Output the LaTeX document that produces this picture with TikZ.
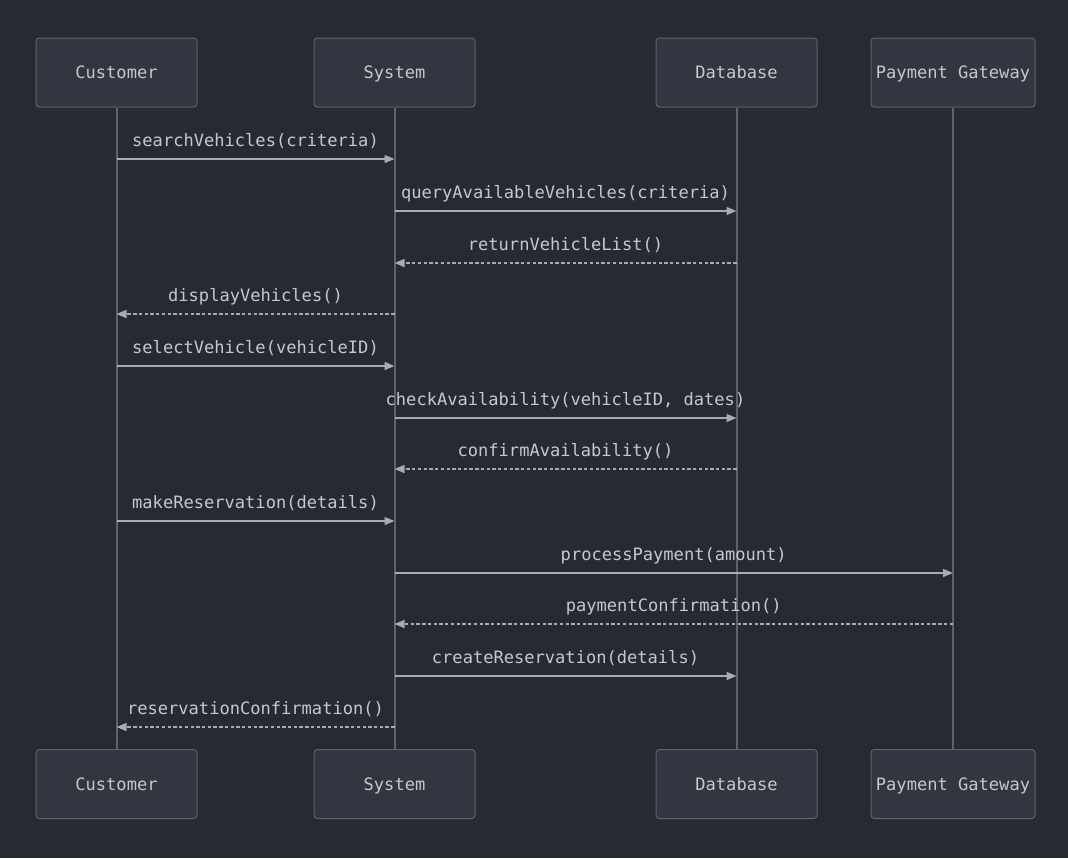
\documentclass[tikz,border=0pt]{standalone}
\usepackage{fontspec}
\setmonofont{DejaVu Sans Mono}
\usetikzlibrary{arrows.meta}
\definecolor{bg}{HTML}{282A32}
\definecolor{boxfill}{HTML}{333640}
\definecolor{boxline}{HTML}{5E626D}
\definecolor{life}{HTML}{5E626D}
\definecolor{arr}{HTML}{A8ABB4}
\definecolor{txt}{HTML}{C6C8CE}
\tikzset{
  actor/.style={draw=boxline, fill=boxfill, line width=0.75pt, rounded corners=2.5pt,
    minimum height=69*0.75pt, text=txt, font=\ttfamily\fontsize{12.8}{14}\selectfont,
    text height=9pt, text depth=0pt, inner sep=0pt},
  lifeline/.style={draw=life, line width=1.5pt},
  call/.style={draw=arr, line width=1.1pt, -{Triangle[length=7.5pt,width=6pt]}},
  reply/.style={call, dash pattern=on 2.5pt off 1.8pt},
  lbl/.style={text=txt, font=\ttfamily\fontsize{12.8}{14}\selectfont, anchor=base, inner sep=0pt, yshift=13*0.75pt}
}
\begin{document}
\begin{tikzpicture}[x=0.75pt,y=-0.75pt]
\fill[bg] (0,0) rectangle (1068,858);
\useasboundingbox (0,0) rectangle (1068,858);
% actors
\node[actor, minimum width=161*0.75pt] (cuT) at (116.5,72.5) {Customer};
\node[actor, minimum width=161*0.75pt] (syT) at (394.5,72.5) {System};
\node[actor, minimum width=161*0.75pt] (dbT) at (736.5,72.5) {Database};
\node[actor, minimum width=164*0.75pt] (pgT) at (953,72.5) {Payment Gateway};
\node[actor, minimum width=161*0.75pt] (cuB) at (116.5,784) {Customer};
\node[actor, minimum width=161*0.75pt] (syB) at (394.5,784) {System};
\node[actor, minimum width=161*0.75pt] (dbB) at (736.5,784) {Database};
\node[actor, minimum width=164*0.75pt] (pgB) at (953,784) {Payment Gateway};
% lifelines
\draw[lifeline] (cuT.south) -- (cuB.north);
\draw[lifeline] (syT.south) -- (syB.north);
\draw[lifeline] (dbT.south) -- (dbB.north);
\draw[lifeline] (pgT.south) -- (pgB.north);
% message coordinates
\coordinate (m1a) at (cuT.south |- 0,159);  \coordinate (m1b) at (syT.south |- 0,159);
\coordinate (m2a) at (syT.south |- 0,211);  \coordinate (m2b) at (dbT.south |- 0,211);
\coordinate (m3a) at (dbT.south |- 0,263);  \coordinate (m3b) at (syT.south |- 0,263);
\coordinate (m4a) at (syT.south |- 0,314);  \coordinate (m4b) at (cuT.south |- 0,314);
\coordinate (m5a) at (cuT.south |- 0,366);  \coordinate (m5b) at (syT.south |- 0,366);
\coordinate (m6a) at (syT.south |- 0,418);  \coordinate (m6b) at (dbT.south |- 0,418);
\coordinate (m7a) at (dbT.south |- 0,469);  \coordinate (m7b) at (syT.south |- 0,469);
\coordinate (m8a) at (cuT.south |- 0,521);  \coordinate (m8b) at (syT.south |- 0,521);
\coordinate (m9a) at (syT.south |- 0,573);  \coordinate (m9b) at (pgT.south |- 0,573);
\coordinate (m10a) at (pgT.south |- 0,624); \coordinate (m10b) at (syT.south |- 0,624);
\coordinate (m11a) at (syT.south |- 0,676); \coordinate (m11b) at (dbT.south |- 0,676);
\coordinate (m12a) at (syT.south |- 0,727); \coordinate (m12b) at (cuT.south |- 0,727);
% messages
\draw[call] (m1a) -- (m1b) node[lbl, midway] {searchVehicles(criteria)};
\draw[call] (m2a) -- (m2b) node[lbl, midway] {queryAvailableVehicles(criteria)};
\draw[reply] (m3a) -- (m3b) node[lbl, midway] {returnVehicleList()};
\draw[reply] (m4a) -- (m4b) node[lbl, midway] {displayVehicles()};
\draw[call] (m5a) -- (m5b) node[lbl, midway] {selectVehicle(vehicleID)};
\draw[call] (m6a) -- (m6b) node[lbl, midway] {checkAvailability(vehicleID, dates)};
\draw[reply] (m7a) -- (m7b) node[lbl, midway] {confirmAvailability()};
\draw[call] (m8a) -- (m8b) node[lbl, midway] {makeReservation(details)};
\draw[call] (m9a) -- (m9b) node[lbl, midway] {processPayment(amount)};
\draw[reply] (m10a) -- (m10b) node[lbl, midway] {paymentConfirmation()};
\draw[call] (m11a) -- (m11b) node[lbl, midway] {createReservation(details)};
\draw[reply] (m12a) -- (m12b) node[lbl, midway] {reservationConfirmation()};
\end{tikzpicture}
\end{document}
